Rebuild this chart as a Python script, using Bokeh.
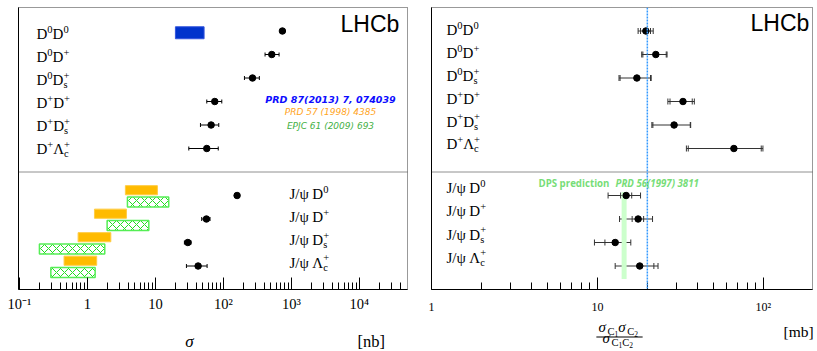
from bokeh.plotting import figure
from bokeh.models import Range1d, FixedTicker, Whisker, TeeHead, Span, Label, ColumnDataSource
from bokeh.layouts import row, column
from bokeh.embed import file_html
from bokeh.resources import INLINE

# ---------------- data ----------------
# left panel: production cross-sections [nb]
cc_names = ["D0D0", "D0D+", "D0Ds+", "D+D+", "D+Ds+", "D+Lc+"]
cc_sigma = [738, 515, 268, 74.7, 66, 57]
cc_sigma_lo = [712, 410, 204, 57, 46, 31]
cc_sigma_hi = [766, 659, 338, 94.7, 85.5, 84]

psi_names = ["J/psi D0", "J/psi D+", "J/psi Ds+", "J/psi Lc+"]
psi_sigma = [159, 56.3, 30.0, 42.5]
psi_sigma_lo = [154, 48, 26.7, 28.6]
psi_sigma_hi = [164, 63.6, 33.5, 57.6]

# theory predictions [nb]
prd87_lo = [19.7]          # D0D0 only
prd87_hi = [52.0]
prd57_lo = [3.62, 1.27, 0.73, 0.454]
prd57_hi = [10.7, 3.75, 2.21, 1.37]
epjc61_lo = [3.88, 1.95, 0.197, 0.29]
epjc61_hi = [15.7, 8.0, 1.8, 1.30]

# right panel: sigma_C1 sigma_C2 / sigma_C1C2 [mb]
cc_ratio = [19.6, 22.5, 17.3, 32.8, 29.0, 66.5]
cc_ratio_stat_lo = [18.2, 18.8, 13.7, 27.4, 21.6, 35.3]
cc_ratio_stat_hi = [20.9, 26.0, 20.9, 37.3, 36.3, 97.2]
cc_ratio_tot_lo = [17.6, 18.5, 13.5, 26.6, 21.3, 34.4]
cc_ratio_tot_hi = [21.7, 26.3, 21.1, 38.4, 36.5, 99.5]

psi_ratio = [14.9, 17.6, 12.8, 18.0]
psi_ratio_stat_lo = [13.8, 16.2, 11.1, 14.5]
psi_ratio_stat_hi = [16.1, 19.0, 14.5, 21.9]
psi_ratio_tot_lo = [11.6, 13.6, 9.6, 12.8]
psi_ratio_tot_hi = [18.2, 21.5, 15.9, 23.2]

dps_lo, dps_hi = 14.0, 15.0
ref_line = 20.0

left_ticks = [0.1, 1, 10, 100, 1000, 10000]
left_tick_labels = ["10\u207b\u00b9", "1", "10", "10\u00b2", "10\u00b3", "10\u2074"]
right_ticks = [1, 10, 100]
right_tick_labels = ["1", "10", "10\u00b2"]

# category label markup
cc_tex = [
    [("n", "D"), ("^", "0"), ("n", "D"), ("^", "0")],
    [("n", "D"), ("^", "0"), ("n", "D"), ("^", "+")],
    [("n", "D"), ("^", "0"), ("n", "D"), ("^_", "+", "s")],
    [("n", "D"), ("^", "+"), ("n", "D"), ("^", "+")],
    [("n", "D"), ("^", "+"), ("n", "D"), ("^_", "+", "s")],
    [("n", "D"), ("^", "+"), ("n", "\u039b"), ("^_", "+", "c")],
]
psi_tex = [
    [("n", "J/\u03c8"), ("gap", 2.5), ("n", "D"), ("^", "0")],
    [("n", "J/\u03c8"), ("gap", 2.5), ("n", "D"), ("^", "+")],
    [("n", "J/\u03c8"), ("gap", 2.5), ("n", "D"), ("^_", "+", "s")],
    [("n", "J/\u03c8"), ("gap", 2.5), ("n", "\u039b"), ("^_", "+", "c")],
]

# ---------------- layout helpers ----------------
cc_y = [i + 1 for i in range(len(cc_names))]
sep_y = len(cc_names) + 1
psi_y = [sep_y + i + 1 for i in range(len(psi_names))]
Y_BOTTOM, Y_TOP = sep_y + len(psi_names) + 1, 0

FT, FB = 7, 289          # pixel of frame top / bottom
MAIN_H = 318             # height of the two panels
SERIF = "Liberation Serif"

W = {'D': .722, 'J': .389, '/': .278, '0': .5, '+': .564, 's': .389, 'c': .444, 'C': .667,
     '1': .5, '2': .5, '\u039b': .722, '\u03c8': .686, '\u03c3': .6, ' ': .25,
     '[': .333, ']': .333, 'n': .5, 'b': .5, 'm': .778}


def tw(s, size):
    return sum(W.get(ch, .5) for ch in s) * size


def put(p, ax, ay, dx, dy, text, size, style="normal", color="black", font=SERIF,
        align="left", baseline="alphabetic"):
    # dy is the wanted baseline; place the text box middle ~0.34 em above it
    if baseline == "alphabetic":
        dy = dy - 0.34 * size
        baseline = "middle"
    p.add_layout(Label(x=ax, y=ay, x_offset=dx, y_offset=-dy, text=text,
                       text_font=font, text_font_size=f"{size}px", text_font_style=style,
                       text_color=color, text_align=align, text_baseline=baseline))


def rich(p, ax, ay, dx, dy, segs, size, color="black"):
    cx = dx
    for seg in segs:
        kind = seg[0]
        if kind == "gap":
            cx += seg[1]
        elif kind in ("n", "i"):
            put(p, ax, ay, cx, dy, seg[1], size, "italic" if kind == "i" else "normal", color)
            cx += tw(seg[1], size)
        elif kind == "^":
            s = size * 0.7
            put(p, ax, ay, cx, dy - 0.42 * size, seg[1], s, color=color)
            cx += tw(seg[1], s)
        elif kind == "_":
            s = size * 0.7
            put(p, ax, ay, cx, dy + 0.2 * size, seg[1], s, color=color)
            cx += tw(seg[1], s)
        elif kind == "__":
            s = size * 0.5
            put(p, ax, ay, cx, dy + 0.33 * size, seg[1], s, color=color)
            cx += tw(seg[1], s)
        elif kind == "^_":
            s = size * 0.7
            put(p, ax, ay, cx, dy - 0.42 * size, seg[1], s, color=color)
            put(p, ax, ay, cx, dy + 0.2 * size, seg[2], s, color=color)
            cx += max(tw(seg[1], s), tw(seg[2], s))
    return cx


def make_fig(xr, fw, bl, br, ticks, tick_labels, label_size, standoff):
    p = figure(x_axis_type="log", x_range=xr, y_range=Range1d(Y_BOTTOM, Y_TOP), title=None,
               width=bl + fw + br, height=MAIN_H, min_border_left=bl, min_border_right=br,
               min_border_top=FT, min_border_bottom=MAIN_H - FB, output_backend="svg",
               toolbar_location=None, background_fill_color="white", border_fill_color="white")
    p.grid.visible = False
    p.outline_line_color = "#333333"
    p.outline_line_dash = "1 1"
    p.outline_line_width = 1
    minor = [m * t for t in ticks for m in range(2, 10) if m * t < xr.end * 0.9]
    ax = p.xaxis[0]
    ax.ticker = FixedTicker(ticks=ticks, minor_ticks=minor)
    ax.major_label_overrides = {t: l for t, l in zip(ticks, tick_labels)}
    ax.major_tick_in = 12
    ax.major_tick_out = 0
    ax.minor_tick_in = 7
    ax.minor_tick_out = 0
    ax.axis_line_color = "black"
    ax.major_tick_line_color = "black"
    ax.minor_tick_line_color = "black"
    ax.major_label_text_font = SERIF
    ax.major_label_text_font_size = f"{label_size}px"
    ax.major_label_text_color = "black"
    ax.major_label_standoff = standoff
    ya = p.yaxis[0]
    ya.ticker = FixedTicker(ticks=[])
    ya.major_tick_out = 0
    ya.major_tick_in = 0
    ya.minor_tick_out = 0
    ya.major_label_standoff = 0
    ya.axis_line_color = "black"
    p.add_layout(Span(location=sep_y, dimension="width", line_color="#222222",
                      line_dash="1 1", line_width=1))
    return p


# ---------------- left panel ----------------
L_FL = 18
p1 = make_fig(Range1d(0.097, 5.1e4), 389, L_FL, 16, left_ticks, left_tick_labels, 14.5, 6)
LX0 = p1.x_range.start

# theory bars
p1.hbar(y=[cc_y[0] + 0.075], height=0.51, left=prd87_lo, right=prd87_hi,
        fill_color="#0033cc", line_color="#3355dd", line_width=1)
p1.hbar(y=[v - 0.225 for v in psi_y], height=0.39, left=prd57_lo, right=prd57_hi,
        fill_color="#ffbb00", line_color="#ffcc44", line_width=1)
p1.hbar(y=[v + 0.275 for v in psi_y], height=0.43, left=epjc61_lo, right=epjc61_hi,
        fill_color="white", line_color="#55ee55", line_width=1.5,
        hatch_pattern="x", hatch_color="#22dd22", hatch_scale=8, hatch_weight=1)

src1 = ColumnDataSource(dict(y=cc_y + psi_y, x=cc_sigma + psi_sigma,
                             lo=cc_sigma_lo + psi_sigma_lo, hi=cc_sigma_hi + psi_sigma_hi))
p1.add_layout(Whisker(source=src1, base="y", lower="lo", upper="hi", dimension="width",
                      line_color="black", line_width=1,
                      upper_head=TeeHead(size=4, line_color="black", line_width=1),
                      lower_head=TeeHead(size=4, line_color="black", line_width=1)))
p1.scatter("x", "y", source=src1, size=6.5, color="black")

for i, segs in enumerate(cc_tex):
    rich(p1, LX0, Y_TOP, 36 - L_FL, 39 + 23.0 * i - FT, segs, 15)
for i, segs in enumerate(psi_tex):
    rich(p1, LX0, Y_TOP, 289 - L_FL, 199 + 22.7 * i - FT, segs, 15)

put(p1, LX0, Y_TOP, 340 - L_FL, 31 - FT, "LHCb", 23, font="Liberation Sans")
put(p1, LX0, Y_TOP, 330 - L_FL, 99.3 - FT, "PRD 87(2013) 7, 074039", 9.5, "bold italic",
    "#0d0dff", "DejaVu Sans", "center", "middle")
put(p1, LX0, Y_TOP, 330 - L_FL, 111.7 - FT, "PRD 57 (1998) 4385", 9, "italic",
    "#ffa41c", "DejaVu Sans", "center", "middle")
put(p1, LX0, Y_TOP, 330 - L_FL, 125.7 - FT, "EPJC 61 (2009) 693", 9, "italic",
    "#44b044", "DejaVu Sans", "center", "middle")

# ---------------- right panel ----------------
R_FL = 431
p2 = make_fig(Range1d(1, 198), 381, 8, 5, right_ticks, right_tick_labels, 12, 10)
RX0 = p2.x_range.start

p2.quad(left=[dps_lo], right=[dps_hi], top=[psi_y[0] - 0.15], bottom=[psi_y[-1] + 0.55],
        fill_color="#ccffcc", line_color=None)
p2.add_layout(Span(location=ref_line, dimension="height", line_color="#3399ff",
                   line_dash="2 1", line_width=1.5))

src2 = ColumnDataSource(dict(y=cc_y + psi_y, x=cc_ratio + psi_ratio,
                             slo=cc_ratio_stat_lo + psi_ratio_stat_lo,
                             shi=cc_ratio_stat_hi + psi_ratio_stat_hi,
                             tlo=cc_ratio_tot_lo + psi_ratio_tot_lo,
                             thi=cc_ratio_tot_hi + psi_ratio_tot_hi))
p2.add_layout(Whisker(source=src2, base="y", lower="tlo", upper="thi", dimension="width",
                      line_color="#333333", line_width=1,
                      upper_head=TeeHead(size=6, line_color="#333333", line_width=1),
                      lower_head=TeeHead(size=6, line_color="#333333", line_width=1)))
p2.add_layout(Whisker(source=src2, base="y", lower="slo", upper="shi", dimension="width",
                      line_alpha=0,
                      upper_head=TeeHead(size=6, line_color="#333333", line_width=1),
                      lower_head=TeeHead(size=6, line_color="#333333", line_width=1)))
p2.scatter("x", "y", source=src2, size=6.5, color="black")

for i, segs in enumerate(cc_tex):
    rich(p2, RX0, Y_TOP, 446 - R_FL, 35 + 22.8 * i - FT, segs, 15)
for i, segs in enumerate(psi_tex):
    rich(p2, RX0, Y_TOP, 446 - R_FL, 192.7 + 23.2 * i - FT, segs, 15)

put(p2, RX0, Y_TOP, 750 - R_FL, 30 - FT, "LHCb", 23, font="Liberation Sans")
put(p2, RX0, Y_TOP, 538 - R_FL, 186.7 - FT, "DPS prediction", 9.7, "bold",
    "#77dd77", "Open Sans")
put(p2, RX0, Y_TOP, 615 - R_FL, 186.7 - FT, "PRD 56(1997) 3811", 9.7, "bold italic",
    "#77dd77", "Open Sans")

# ---------------- axis titles strip (below both panels) ----------------
STRIP_H = 351 - MAIN_H
q = figure(width=817, height=STRIP_H, x_range=Range1d(0, 817), y_range=Range1d(STRIP_H, 0),
           title=None, x_axis_location=None, y_axis_location=None,
           min_border=0, min_border_left=0, min_border_right=0,
           min_border_top=0, min_border_bottom=0,
           output_backend="svg", toolbar_location=None, outline_line_color=None,
           background_fill_color="white", border_fill_color="white")
q.grid.visible = False
put(q, 0, 0, 189, 347 - MAIN_H, "\u03c3", 17, "italic", align="center")
put(q, 0, 0, 357, 346.5 - MAIN_H, "[nb]", 16.5)
num = [("i", "\u03c3"), ("_", "C"), ("__", "1"), ("i", "\u03c3"), ("_", "C"), ("__", "2")]
den = [("i", "\u03c3"), ("_", "C"), ("__", "1"), ("_", "C"), ("__", "2")]
rich(q, 0, 0, 598, 331.5 - MAIN_H, num, 15)
rich(q, 0, 0, 602, 342.5 - MAIN_H, den, 15)
q.add_layout(Label(x=0, y=0, x_offset=619, y_offset=-(336.5 - MAIN_H), text=" ",
                   text_font_size="1px", text_align="center", text_baseline="middle",
                   background_fill_color="black",
                   padding=dict(left=23, right=23, top=0, bottom=0)))
put(q, 0, 0, 783, 336 - MAIN_H, "[mb]", 15.5)

layout = column(row(p1, p2), q)
open("out.html", "w").write(file_html(layout, INLINE))
